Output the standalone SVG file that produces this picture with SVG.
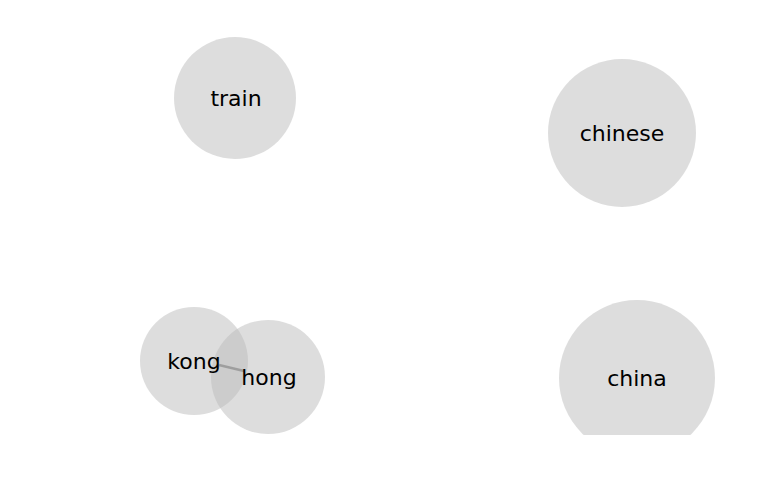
<svg xmlns="http://www.w3.org/2000/svg" width="768" height="500" viewBox="0 0 768 500">
<style>
.node circle{fill:#bbbbbb;fill-opacity:0.5;}
.node text{font-family:"DejaVu Sans",sans-serif;font-size:22px;fill:#000;text-anchor:middle;dominant-baseline:central;}
.edge{stroke:#999;stroke-width:2.5;stroke-opacity:0.9;}
</style>
<defs><clipPath id="clip"><rect x="0" y="0" width="768" height="435"/></clipPath></defs>
<rect width="768" height="500" fill="#fff"/>
<g clip-path="url(#clip)">
<g id="node-train" class="node"><circle cx="235" cy="98" r="61"/><text x="236" y="98">train</text></g>
<g id="node-chinese" class="node"><circle cx="622" cy="133" r="74"/><text x="622" y="133">chinese</text></g>
<g id="node-china" class="node"><circle cx="637" cy="378" r="78"/><text x="637" y="378">china</text></g>
<g id="node-kong" class="node"><circle cx="194" cy="361" r="54"/></g>
<g id="node-hong" class="node"><circle cx="268" cy="377" r="57"/></g>
<g id="connectors"><line class="edge" x1="219" y1="365" x2="244" y2="371"/></g>
<g class="node"><text x="194" y="361">kong</text><text x="269" y="377">hong</text></g>
</g>
</svg>
